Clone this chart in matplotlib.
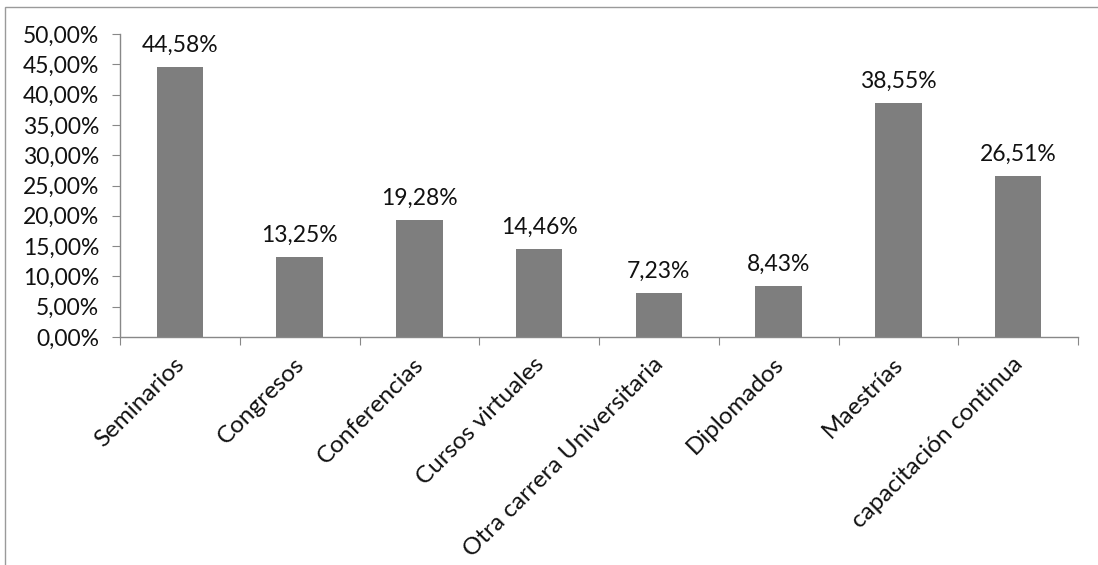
import matplotlib
matplotlib.use("Agg")
import matplotlib.pyplot as plt
from matplotlib.patches import Rectangle
from matplotlib.transforms import ScaledTranslation

categories = ["Seminarios", "Congresos", "Conferencias", "Cursos virtuales",
              "Otra carrera Universitaria", "Diplomados", "Maestrías",
              "capacitación continua"]
values = [44.58, 13.25, 19.28, 14.46, 7.23, 8.43, 38.55, 26.51]
yticks = [0, 5, 10, 15, 20, 25, 30, 35, 40, 45, 50]

plt.rcParams['font.family'] = ['Lato', 'DejaVu Sans']
FS = 16.5
FSX = 17.5

W, H = 1098, 565
fig = plt.figure(figsize=(W / 100, H / 100), dpi=100)
fig.patch.set_facecolor('white')

# outer chart border
fig.add_artist(Rectangle((5 / W, -0.05), 1.2, 1 - 7 / H + 0.05,
                         transform=fig.transFigure, fill=False,
                         edgecolor='#9a9a9a', linewidth=1.0))

ax = fig.add_axes([120 / W, 1 - 337 / H, (1078 - 120) / W, (337 - 34) / H])
x = list(range(len(categories)))
bars = ax.bar(x, values, width=0.39, color='#7e7e7e', edgecolor='none')

for xi, v in zip(x, values):
    ax.annotate(f"{v:.2f}%".replace('.', ','), (xi, v), xytext=(0, 8),
                textcoords='offset points', ha='center', va='bottom',
                fontsize=FS, color='#111111')

ax.set_xlim(-0.5, len(categories) - 0.5)
ax.set_ylim(0, 50)
ax.set_yticks(yticks)
ax.set_yticklabels([f"{t:.2f}%".replace('.', ',') for t in yticks],
                   fontsize=FS, color='#111111')

# category boundary ticks
ax.set_xticks([i - 0.5 for i in range(len(categories) + 1)], minor=False)
ax.set_xticklabels([])
ax.set_xticks(x, minor=True)
ax.set_xticklabels(categories, minor=True, rotation=45, ha='right',
                   rotation_mode='anchor', fontsize=FSX, color='#111111')
ax.tick_params(axis='x', which='minor', length=0, pad=12)
ax.tick_params(axis='x', which='major', length=6, color='#888888', direction='out')
ax.tick_params(axis='y', length=6, color='#888888', direction='out', pad=9)
off = ScaledTranslation(-6 / 100, 0, fig.dpi_scale_trans)
for lbl in ax.get_xticklabels(minor=True):
    lbl.set_transform(lbl.get_transform() + off)

for s in ['top', 'right']:
    ax.spines[s].set_visible(False)
for s in ['left', 'bottom']:
    ax.spines[s].set_color('#888888')
    ax.spines[s].set_linewidth(1.0)

fig.savefig('out.png', dpi=100, facecolor='white')
